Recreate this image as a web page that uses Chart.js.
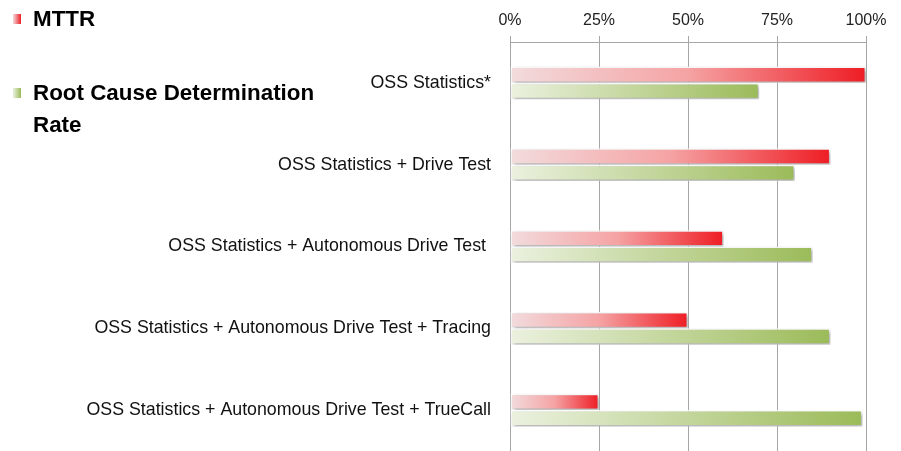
<!DOCTYPE html>
<html>
<head>
<meta charset="utf-8">
<script src="https://cdn.jsdelivr.net/npm/chart.js@4.4.1/dist/chart.umd.min.js"></script>
<style>
  body { margin: 0; background: #fff; }
  #wrap { position: relative; width: 901px; height: 451px; }
  canvas { display: block; }
  .leg { position: absolute; font-family: "Liberation Sans", Arial, sans-serif; font-weight: bold; font-size: 22.4px; color: #000; line-height: 32px; }
  .sw { position: absolute; width: 8px; height: 10px; }
</style>
</head>
<body>
<div id="wrap">
  <canvas id="barChart" width="901" height="451"></canvas>
  <div class="sw" style="left:13px;top:14px;background:linear-gradient(to right,#f2dcdd,#ee1d24);"></div>
  <div class="leg" style="left:33px;top:3px;">MTTR</div>
  <div class="sw" style="left:13px;top:88px;background:linear-gradient(to right,#ebf1df,#9bbb59);"></div>
  <div class="leg" style="left:33px;top:77px;">Root Cause Determination<br>Rate</div>
</div>
<script>
const categories = [
    'OSS Statistics*',
    'OSS Statistics + Drive Test',
    'OSS Statistics + Autonomous Drive Test ',
    'OSS Statistics + Autonomous Drive Test + Tracing',
    'OSS Statistics + Autonomous Drive Test + TrueCall'
];
const mttr = [100, 90, 60, 50, 25];
const rootCause = [70, 80, 85, 90, 99];
const tickLabels = ['0%', '25%', '50%', '75%', '100%'];

const catFont = { family: '"Liberation Sans", Arial, sans-serif', size: 17.8 };
const pctFont = { family: '"Liberation Sans", Arial, sans-serif', size: 16 };

// each bar gets its own left-to-right gradient, pale to full colour
function barGradient(stops) {
    return function(context) {
        const chart = context.chart;
        const x = chart.scales.x;
        const last = stops[stops.length - 1][1];
        if (!x || context.type !== 'data') return last;
        const x0 = x.getPixelForValue(0);
        const x1 = x.getPixelForValue(context.raw);
        if (!isFinite(x0) || !isFinite(x1) || x1 <= x0) return last;
        const g = chart.ctx.createLinearGradient(x0, 0, x1, 0);
        stops.forEach(s => g.addColorStop(s[0], s[1]));
        return g;
    };
}

const barShadow = {
    id: 'barShadow',
    beforeDatasetsDraw(chart) {
        const c = chart.ctx;
        c.save();
        c.shadowColor = 'rgba(0, 0, 0, 0.35)';
        c.shadowBlur = 4;
        c.shadowOffsetX = 2;
        c.shadowOffsetY = 2;
    },
    afterDatasetsDraw(chart) {
        chart.ctx.restore();
    }
};

const ctx = document.getElementById('barChart').getContext('2d');
const barChart = new Chart(ctx, {
    type: 'bar',
    data: {
        labels: categories,
        datasets: [{
            label: 'MTTR',
            data: mttr,
            backgroundColor: barGradient([[0, '#f2dcdd'], [0.5, '#f5a3a4'], [1, '#ee1d24']]),
            borderColor: '#ffffff',
            borderWidth: 1.5,
            borderSkipped: false
        }, {
            label: 'Root Cause Determination Rate',
            data: rootCause,
            backgroundColor: barGradient([[0, '#ebf1df'], [1, '#9bbb59']]),
            borderColor: '#ffffff',
            borderWidth: 1.5,
            borderSkipped: false
        }]
    },
    options: {
        indexAxis: 'y',
        responsive: false,
        animation: false,
        layout: { padding: { left: 0, right: 35, top: 0, bottom: 0 } },
        datasets: { bar: { categoryPercentage: 0.4, barPercentage: 1 } },
        plugins: {
            legend: { display: false },
            tooltip: { enabled: false }
        },
        scales: {
            x: {
                position: 'top',
                min: 0,
                max: 100,
                ticks: {
                    stepSize: 25,
                    callback: (v, i) => tickLabels[i],
                    font: pctFont,
                    color: '#222',
                    padding: 6
                },
                grid: { color: '#a6a6a6', tickLength: 6 },
                border: { color: '#a6a6a6' },
                afterFit(scale) { scale.height = 42; }
            },
            y: {
                grid: { display: false, drawTicks: false },
                border: { color: '#a6a6a6' },
                ticks: { font: catFont, color: '#111', padding: 19 },
                afterFit(scale) {
                    scale.width = 510;
                    // tick padding would otherwise shrink the plot at the bottom
                    scale.paddingTop = 0;
                    scale.paddingBottom = 0;
                }
            }
        }
    },
    plugins: [barShadow]
});
</script>
</body>
</html>
